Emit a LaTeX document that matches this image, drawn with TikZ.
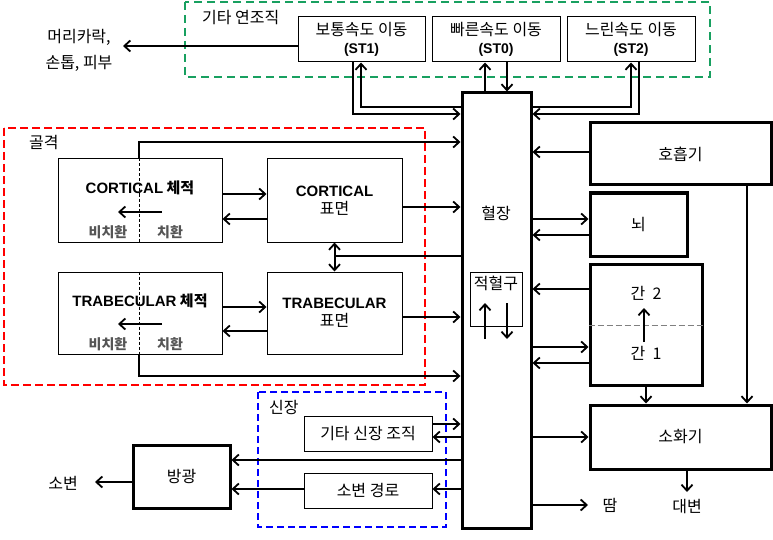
\documentclass[tikz,border=0pt]{standalone}
\usepackage{fontspec}
\setmainfont{Noto Sans CJK KR}
\newfontfamily\lat{Liberation Sans}
\usetikzlibrary{arrows.meta}
\definecolor{dgreen}{RGB}{24,160,96}
\definecolor{gtext}{RGB}{85,85,85}
\newcommand\myfs{\fontsize{16}{18}\selectfont}
\newcommand\myfb{\fontsize{15}{18}\selectfont}
\newcommand\myfg{\fontsize{14}{15}\selectfont}
\begin{document}
\begin{tikzpicture}[x=1pt,y=-1pt,
  font=\myfs,
  tbox/.style={draw, line width=1pt, inner sep=0pt, align=center},
  kbox/.style={draw, line width=3pt, inner sep=0pt, align=center},
  lbl/.style={inner sep=0pt, align=center},
  glbl/.style={inner sep=0pt, font=\myfg\bfseries, text=gtext},
  arr/.style={line width=2pt, -{Straight Barb[length=6pt,width=11pt,line width=1.8pt]}},
  darr/.style={line width=2pt, {Straight Barb[length=6pt,width=11pt,line width=1.8pt]}-{Straight Barb[length=6pt,width=11pt,line width=1.8pt]}},
  conn/.style={line width=2pt},
  gframe/.style={draw=dgreen, line width=1.8pt, dash pattern=on 8pt off 5pt},
  rframe/.style={draw=red, line width=1.8pt, dash pattern=on 8pt off 4pt},
  bframe/.style={draw=blue, line width=1.8pt, dash pattern=on 7pt off 4pt},
  vdash/.style={line width=0.8pt, dash pattern=on 3pt off 2pt},
  ldash/.style={draw=gray, line width=1pt, dash pattern=on 6pt off 3pt}
]
\useasboundingbox (0,0) rectangle (773,540);

% group frames
\draw[gframe] (185,2) rectangle (710,77);
\draw[rframe] (4,128) rectangle (425,385);
\draw[bframe] (258,392) rectangle (446,527);
\node[lbl, anchor=west] (glab) at (202,18) {기타 연조직};
\node[lbl, anchor=west] (rlab) at (29,143) {골격};
\node[lbl, anchor=west] (blab) at (269,407) {신장};

% other soft tissues
\node[tbox, minimum width=127pt, minimum height=45pt] (st1) at (361.5,39.5) {보통속도 이동\\{\lat\fontsize{14}{18}\selectfont\bfseries (ST1)}};
\node[tbox, minimum width=128pt, minimum height=45pt] (st0) at (496,39.5) {빠른속도 이동\\{\lat\fontsize{14}{18}\selectfont\bfseries (ST0)}};
\node[tbox, minimum width=128pt, minimum height=45pt] (st2) at (631,39.5) {느린속도 이동\\{\lat\fontsize{14}{18}\selectfont\bfseries (ST2)}};
\node[lbl] (hair1) at (79,37) {머리카락,};
\node[lbl] (hair2) at (79,63) {손톱, 피부};
\coordinate (hairtip) at (123,46);

% plasma
\node[kbox, minimum width=69pt, minimum height=435pt] (plasma) at (496.5,310.5) {};
\node[lbl] (plab) at (496,213) {혈장};
\node[tbox, minimum width=52pt, minimum height=54pt] (rbc) at (496,299) {};
\node[lbl] (rbclab) at (496,283) {적혈구};

% skeleton
\node[tbox, minimum width=164pt, minimum height=83pt] (cv) at (140,200.5) {};
\node[tbox, minimum width=135pt, minimum height=83pt] (cs) at (334.5,200.5) {\myfb\bfseries{\lat CORTICAL}\\표면};
\node[tbox, minimum width=164pt, minimum height=82pt] (tv) at (140,313) {};
\node[tbox, minimum width=135pt, minimum height=82pt] (ts) at (334.5,313) {\myfb\bfseries{\lat TRABECULAR}\\표면};
\node[lbl, font=\myfb\bfseries] (cvlab) at (140,188) {{\lat CORTICAL} 체적};
\node[lbl, font=\myfb\bfseries] (tvlab) at (140,301) {{\lat TRABECULAR} 체적};
\node[glbl] (cvn) at (108,232) {비치환};
\node[glbl] (cvr) at (170,232) {치환};
\node[glbl] (tvn) at (108,344) {비치환};
\node[glbl] (tvr) at (170,344) {치환};
\draw[vdash] (cv.north -| 139,0) -- (cv.south -| 139,0);
\draw[vdash] (tv.north -| 139,0) -- (tv.south -| 139,0);
\coordinate (cva) at (162,212);
\coordinate (cvb) at (118,212);
\coordinate (tva) at (162,324);
\coordinate (tvb) at (118,324);
\draw[arr] (cva) -- (cvb);
\draw[arr] (tva) -- (tvb);

% right organs
\node[kbox, minimum width=181pt, minimum height=62pt] (resp) at (680.5,154) {호흡기};
\node[kbox, minimum width=97pt, minimum height=63pt] (brain) at (638.5,224.5) {뇌};
\node[kbox, minimum width=112pt, minimum height=121pt] (liver) at (646,324.5) {};
\node[lbl] (l2) at (646,293) {간\ \ 2};
\node[lbl] (l1) at (646,353) {간\ \ 1};
\draw[ldash] (liver.west |- 0,325) -- (liver.east |- 0,325);
\coordinate (la) at (644,342);
\coordinate (lb) at (644,308);
\draw[arr] (la) -- (lb);
\node[kbox, minimum width=181pt, minimum height=64pt] (gi) at (680.5,437) {소화기};
\node[lbl] (feces) at (687,507) {대변};
\coordinate (fectip) at (687,492);
\node[lbl] (sweat) at (610,505) {땀};
\coordinate (swtip) at (588,505);

% kidney
\node[tbox, minimum width=128pt, minimum height=35pt] (kt) at (368,433.5) {기타 신장 조직};
\node[tbox, minimum width=128pt, minimum height=35pt] (up) at (368,490.5) {소변 경로};
\node[kbox, minimum width=97pt, minimum height=63pt] (bl) at (181.5,476.5) {방광};
\node[lbl] (urine) at (63,483) {소변};
\coordinate (urtip) at (95,482);

% connectors: soft tissue
\draw[arr] (st1.west |- 0,46) -- (hairtip);
\draw[arr] (plasma.west |- 0,107) -| (st1.south -| 361,0);
\draw[arr] (st1.south -| 353,0) |- (plasma.west |- 0,114);
\draw[arr] (plasma.north -| 485,0) -- (st0.south -| 485,0);
\draw[arr] (st0.south -| 507,0) -- (plasma.north -| 507,0);
\draw[arr] (plasma.east |- 0,107) -| (st2.south -| 631,0);
\draw[arr] (st2.south -| 639,0) |- (plasma.east |- 0,114);

% connectors: skeleton
\draw[arr] (cv.north -| 139,0) |- (plasma.west |- 0,142);
\draw[arr] (cv.east |- 0,194) -- (cs.west |- 0,194);
\draw[arr] (cs.west |- 0,219) -- (cv.east |- 0,219);
\draw[arr] (cs.east |- 0,207) -- (plasma.west |- 0,207);
\draw[darr] (cs.south) -- (ts.north);
\draw[conn] (plasma.west |- 0,256) -- (cs.south |- 0,256);
\draw[arr] (tv.east |- 0,307) -- (ts.west |- 0,307);
\draw[arr] (ts.west |- 0,331) -- (tv.east |- 0,331);
\draw[arr] (ts.east |- 0,317) -- (plasma.west |- 0,317);
\draw[arr] (tv.south -| 139,0) |- (plasma.west |- 0,376);

% connectors: red cells
\coordinate (ru1) at (485,339);
\coordinate (ru2) at (485,303);
\coordinate (rd1) at (507,303);
\coordinate (rd2) at (507,339);
\draw[arr] (ru1) -- (ru2);
\draw[arr] (rd1) -- (rd2);

% connectors: right organs
\draw[arr] (resp.west |- 0,152) -- (plasma.east |- 0,152);
\draw[arr] (resp.south -| 747,0) -- (gi.north -| 747,0);
\draw[arr] (plasma.east |- 0,219) -- (brain.west |- 0,219);
\draw[arr] (brain.west |- 0,235) -- (plasma.east |- 0,235);
\draw[arr] (liver.west |- 0,289) -- (plasma.east |- 0,289);
\draw[arr] (plasma.east |- 0,347) -- (liver.west |- 0,347);
\draw[arr] (liver.west |- 0,363) -- (plasma.east |- 0,363);
\draw[arr] (liver.south) -- (gi.north -| liver.south);
\draw[arr] (plasma.east |- 0,437) -- (gi.west |- 0,437);
\draw[arr] (gi.south -| 687,0) -- (fectip);
\draw[arr] (plasma.east |- 0,505) -- (swtip);

% connectors: kidney
\draw[arr] (kt.east |- 0,424) -- (plasma.west |- 0,424);
\draw[arr] (plasma.west |- 0,437) -- (kt.east |- 0,437);
\draw[arr] (plasma.west |- 0,460) -- (bl.east |- 0,460);
\draw[arr] (plasma.west |- 0,489) -- (up.east |- 0,489);
\draw[arr] (up.west |- 0,489) -- (bl.east |- 0,489);
\draw[arr] (bl.west |- 0,482) -- (urtip);
\end{tikzpicture}
\end{document}
